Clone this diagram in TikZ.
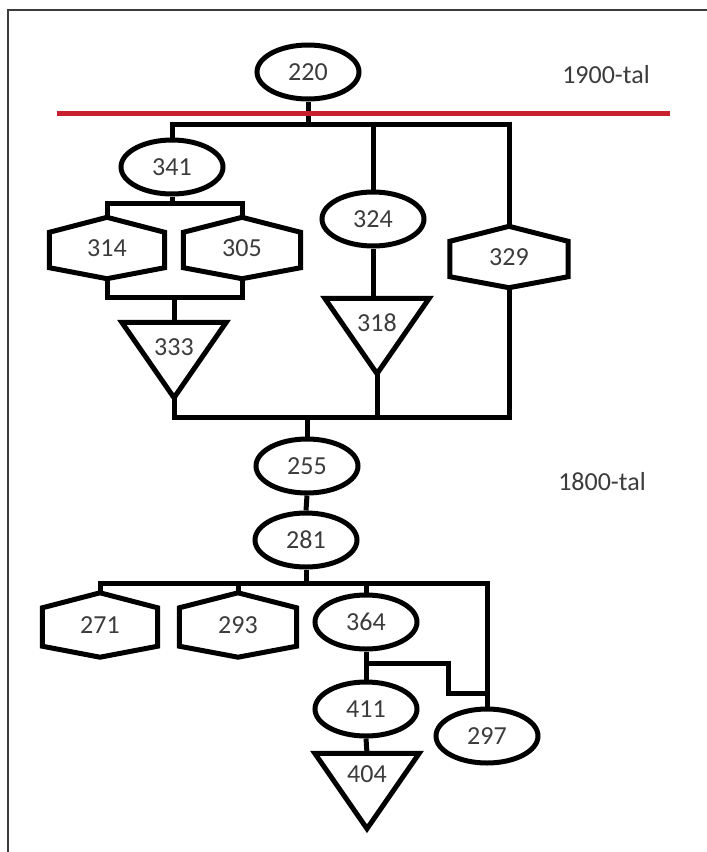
\documentclass[tikz,border=0pt]{standalone}
\usepackage{fontspec}
\setmainfont{Carlito}
\usetikzlibrary{calc,shapes.geometric}
\definecolor{linered}{RGB}{200,32,44}
\definecolor{numgray}{RGB}{60,60,60}
\definecolor{framegray}{RGB}{60,60,60}
\begin{document}
\begin{tikzpicture}[x=1pt,y=-1pt,
  every node/.style={font=\fontsize{26}{30}\selectfont, text=numgray, inner sep=0pt},
  wire/.style={line width=5pt, draw=black},
  oval/.style={ellipse, draw=black, line width=5pt, minimum width=102pt, minimum height=54pt},
  hexbox/.style={rectangle, minimum width=#1, minimum height=61pt},
  hexlow/.style={rectangle, minimum width=#1, minimum height=64pt},
  tribox/.style={rectangle, minimum width=104pt, minimum height=75pt},
]
\useasboundingbox (0,0) rectangle (707,852);
\fill[white] (0,0) rectangle (707,852);

% frame
\draw[framegray, line width=1.4pt] (8,852) -- (8,10) -- (707,10);

% nodes, 1900s
\node[oval] (n220) at (308,72) {220};
\node[oval] (n341) at (172,167) {341};
\node[oval] (n324) at (373,219) {324};
\node[hexbox=115pt] (h314) at (107,248) {314};
\node[hexbox=117pt] (h305) at (242,248) {305};
\node[hexbox=118pt] (h329) at (509,257) {329};
\node[tribox] (t333) at (174,360) {};
\node (l333) at ($(t333.north)+(0,25)$) {333};
\node[tribox] (t318) at (377,336) {};
\node (l318) at ($(t318.north)+(0,24)$) {318};

% nodes, 1800s
\node[oval] (n255) at (307,466) {255};
\node[oval] (n281) at (306,540) {281};
\node[hexlow=115pt] (h271) at (100,625) {271};
\node[hexlow=117pt] (h293) at (238,625) {293};
\node[oval] (n364) at (366,622) {364};
\node[oval] (n411) at (366,709) {411};
\node[oval] (n297) at (487,736) {297};
\node[tribox] (t404) at (367,791) {};
\node (l404) at ($(t404.north)+(0,21)$) {404};

% century labels
\node (c1900) at (606,75) {1900-tal};
\node (c1800) at (602,482) {1800-tal};

% hexagon and triangle outlines
\foreach \h in {h314,h305,h329,h271,h293}
  \draw[wire] (\h.north) -- ($(\h.north east)+(0,15)$) -- ($(\h.south east)+(0,-11)$)
    -- (\h.south) -- ($(\h.south west)+(0,-11)$) -- ($(\h.north west)+(0,15)$) -- cycle;
\foreach \t in {t333,t318,t404}
  \draw[wire] (\t.north west) -- (\t.north east) -- (\t.south) -- cycle;

% junctions
\coordinate (b220) at (308,124);
\coordinate (b341) at (172,203);
\coordinate (m333) at (174,297);
\coordinate (b255) at (307,417);
\coordinate (b281) at (306,583);
\coordinate (k364) at (366,663);
\coordinate (k1) at (448,663);
\coordinate (k2) at (448,693);

% connectors
\draw[wire] (n220.south) -- (b220);
\draw[wire] (n341.north) |- (b220) -| (h329.north);
\draw[wire] (n324.north) -- (n324.north |- b220);
\draw[wire] (n341.south) -- (b341);
\draw[wire] (h314.north) |- (b341) -| (h305.north);
\draw[wire] (h314.south) |- (m333) -| (h305.south);
\draw[wire] (m333) -- (t333.north);
\draw[wire] (n324.south) -- (n324.south |- t318.north);
\draw[wire] (t333.south) |- (b255) -| (h329.south);
\draw[wire] (t318.south) -- (t318.south |- b255);
\draw[wire] (b255) -- (n255.north);
\draw[wire] (n255.south) -- (n281.north);
\draw[wire] (n281.south) -- (b281);
\draw[wire] (h271.north) |- (b281) -| (n297.north);
\draw[wire] (h293.north) -- (h293.north |- b281);
\draw[wire] (n364.north) -- (n364.north |- b281);
\draw[wire] (n364.south) -- (n411.north);
\draw[wire] (k364) -- (k1) -- (k2) -- (k2 -| n297.north);
\draw[wire] (n411.south) -- (t404.north);

% dividing line between the centuries
\draw[linered, line width=5pt] (57,113) -- (670,113);
\end{tikzpicture}
\end{document}
